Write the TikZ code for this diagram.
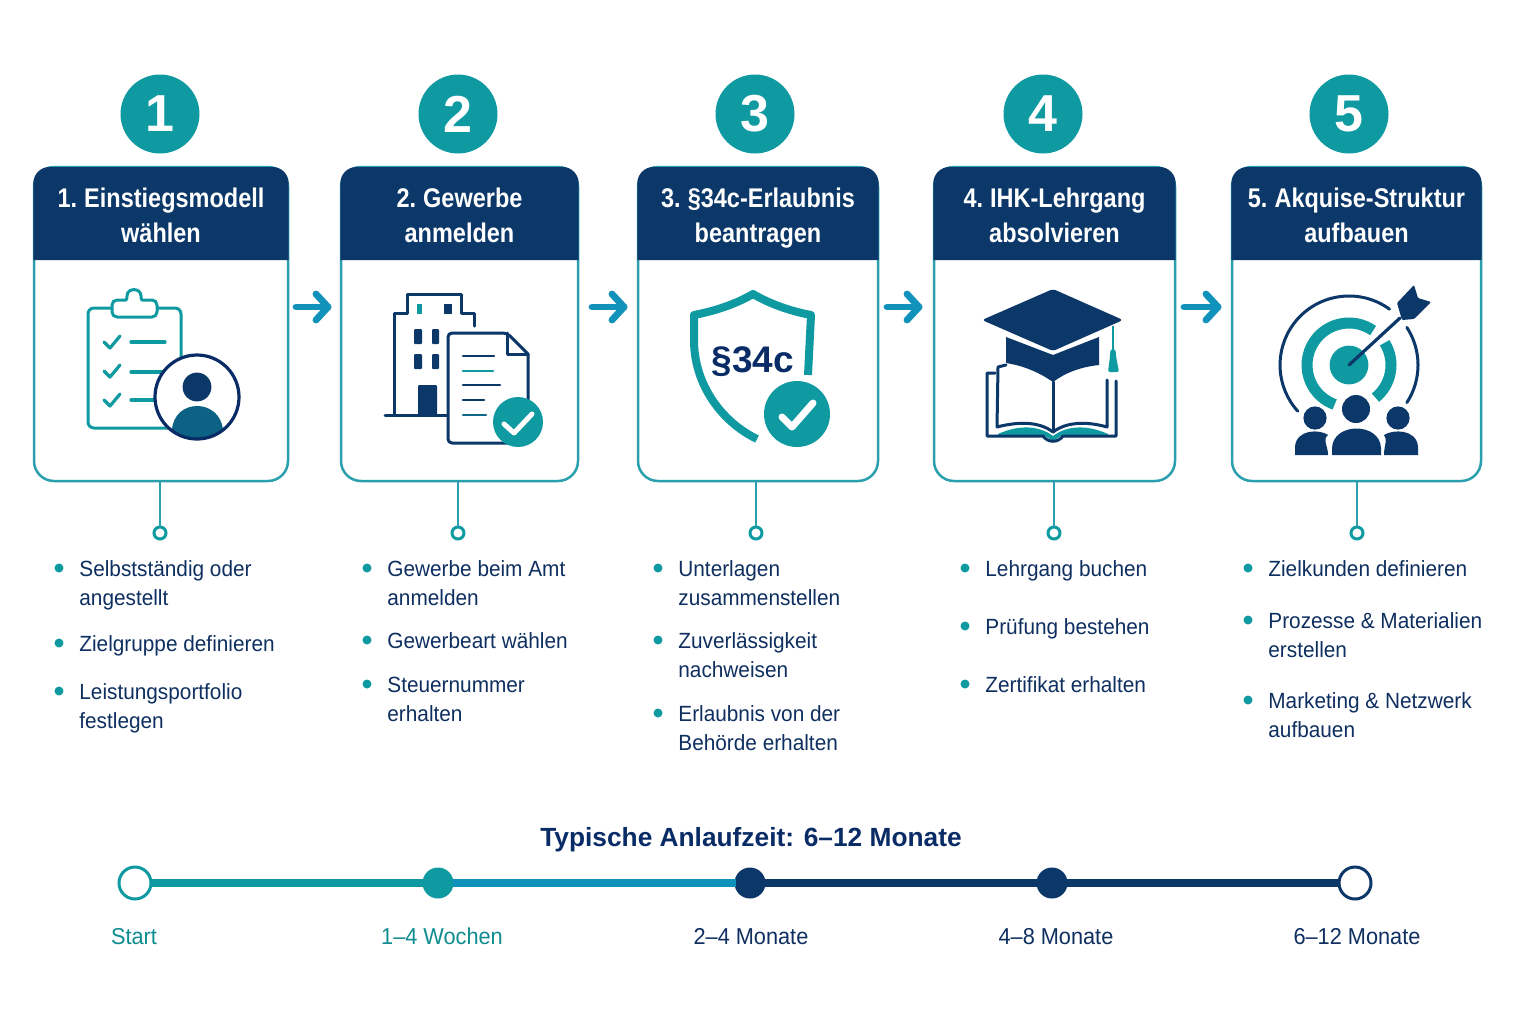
\documentclass[tikz,border=0pt]{standalone}
\usepackage{fontspec}
\usetikzlibrary{calc}
\setmainfont{Liberation Sans}
\newfontfamily\headfont[FakeStretch=0.87,WordSpace=0.75]{Liberation Sans Bold}
\newfontfamily\bodyfont[FakeStretch=0.945]{Liberation Sans}
\definecolor{navy}{HTML}{0B3769}
\definecolor{dnavy}{HTML}{0A2C66}
\definecolor{teal1}{HTML}{0F9AA2}
\definecolor{tealb}{HTML}{2A9FAE}
\definecolor{tealtx}{HTML}{0E8C90}
\definecolor{blue1}{HTML}{1192BB}
\definecolor{txt}{HTML}{0E2F60}
\definecolor{avbody}{HTML}{0B6285}
\tikzset{
  numdisc/.style={circle,fill=teal1,minimum size=39.5pt,inner sep=0pt,text=white,font=\fontsize{26}{26}\selectfont\bfseries},
  cardbox/.style={draw=tealb,line width=1.25pt,rounded corners=10pt,fill=white,inner sep=0pt},
  headtxt/.style={text=white,anchor=base,inner sep=0pt,font=\fontsize{13.5}{17.5}\headfont},
  flow/.style={draw=blue1,line width=3.4pt,line cap=round,line join=round},
  stem/.style={draw=tealb,line width=1.25pt},
  ring/.style={circle,draw=teal1,fill=white,line width=1.5pt,minimum size=6pt,inner sep=0pt},
  bdot/.style={circle,fill=teal1,minimum size=4.5pt,inner sep=0pt},
  body/.style={anchor=north west,align=left,inner sep=0pt,text=txt,font=\fontsize{11}{14.5}\bodyfont},
  tline/.style={line width=4pt},
  tdisc/.style={circle,inner sep=0pt,outer sep=-0.5pt,minimum size=15.5pt},
  thollow/.style={circle,inner sep=0pt,minimum size=16pt,fill=white,line width=1.5pt,outer sep=0pt},
  tlabel/.style={inner sep=0pt,anchor=base,font=\fontsize{11.5}{14}\bodyfont},
  ln/.style={draw=navy,line width=1.5pt,line cap=round,line join=round},
  lt/.style={draw=teal1,line width=1.6pt,line cap=round,line join=round},
}
\newcommand{\bitem}[4]{%
  \node[bdot] (bd#1) at ({#2-20},#3) {};
  \node[body,yshift=4pt] (bt#1) at (#2,#3) {\rule{0pt}{8pt}#4};
}
\newcommand{\cardat}[5]{% id, x0, x1, head line1, head line2
  \node[cardbox,minimum width={(#3-#2)*0.5pt},minimum height=157pt] (c#1) at ({(#2+#3)/2},324) {};
  \fill[navy] (#2-0.6,260) -- (#2-0.6,183) [rounded corners=8pt] -- (#2-0.6,167) -- (#3+0.6,167) [sharp corners] -- (#3+0.6,260) -- cycle;
  \node[headtxt] (h#1a) at ({(#2+#3)/2},207) {#4};
  \node[headtxt] (h#1b) at ({(#2+#3)/2},242) {#5};
}
\newcommand{\flowarrow}[2]{%
  \draw[flow] (#1) -- (#2);
  \draw[flow] ($(#2)+(-12,-13)$) -- (#2) -- ($(#2)+(-12,13)$);
}
\begin{document}
\begin{tikzpicture}[x=0.5pt,y=-0.5pt]
\useasboundingbox (0,0) rectangle (1536,1024);
\fill[white] (0,0) rectangle (1536,1024);

% number discs
\node[numdisc] (n1) at (160,114) {1};
\node[numdisc] (n2) at (458,114) {2};
\node[numdisc] (n3) at (755,114) {3};
\node[numdisc] (n4) at (1043,114) {4};
\node[numdisc] (n5) at (1349,114) {5};

% cards
\cardat{1}{34}{288}{1. Einstiegsmodell}{wählen}
\cardat{2}{341}{578}{2. Gewerbe}{anmelden}
\cardat{3}{638}{878}{3. §34c-Erlaubnis}{beantragen}
\cardat{4}{934}{1175}{4. IHK-Lehrgang}{absolvieren}
\cardat{5}{1232}{1481}{5. Akquise-Struktur}{aufbauen}

% flow arrows
\coordinate (a1s) at (296,307); \coordinate (a1e) at (328,307);
\coordinate (a2s) at (592,307); \coordinate (a2e) at (624,307);
\coordinate (a3s) at (887,307); \coordinate (a3e) at (919,307);
\coordinate (a4s) at (1184,307); \coordinate (a4e) at (1218,307);
\flowarrow{a1s}{a1e}
\flowarrow{a2s}{a2e}
\flowarrow{a3s}{a3e}
\flowarrow{a4s}{a4e}

% stems
\node[ring] (r1) at (160,533) {};
\node[ring] (r2) at (458,533) {};
\node[ring] (r3) at (756,533) {};
\node[ring] (r4) at (1054,533) {};
\node[ring] (r5) at (1357,533) {};
\foreach \i in {1,...,5} \draw[stem] (c\i.south -| r\i) -- (r\i);

% icon 1
\draw[lt,line width=1.5pt,fill=white,rounded corners=3pt] (88,308) rectangle (181,428);
\draw[lt,line width=1.5pt,fill=white] (126,300) [rounded corners=2.5pt] -- (112,300) -- (112,317) -- (157,317) -- (157,300) [sharp corners] -- (142,300) .. controls (141,299) and (141,298) .. (141,296) .. controls (141,287.5) and (127,287.5) .. (127,296) .. controls (127,298) and (127,299) .. (126,300) -- cycle;
\foreach \yy in {336,365,394} {
  \draw[lt] (104,\yy+6) -- (110,\yy+12) -- (120,\yy);
}
\draw[lt] (131,342) -- (165,342);
\draw[lt] (131,372) -- (165,372);
\draw[lt] (131,400) -- (165,400);
\coordinate (av) at (197,397);
\fill[white] (av) circle[radius=21pt];
\begin{scope}
  \clip (av) circle[radius=21pt];
  \fill[avbody] (170,440) -- (172,430) .. controls (174,398) and (220,398) .. (223,430) -- (225,440) -- cycle;
\end{scope}
\draw[dnavy,line width=1.6pt] (av) circle[radius=21pt];
\fill[navy] (197,387) circle[radius=7.2pt];

% icon 2
\draw[ln] (394,415) -- (394,313) -- (407,313) -- (407,294) -- (461,294) -- (461,313) -- (474,313) -- (474,326);
\draw[ln] (385,415) -- (447,415);
\fill[teal1] (417,304) rectangle (422,314);
\fill[navy] (444,304) rectangle (452,314);
\foreach \xa/\xb in {414/422,432/439} \foreach \ya/\yb in {329/344,354/369} {
  \fill[navy,rounded corners=0.5pt] (\xa,\ya) rectangle (\xb,\yb);
}
\fill[navy,rounded corners=0.5pt] (418,385) rectangle (437,416);
\draw[ln,fill=white,rounded corners=2pt] (448,333) -- (507,333) [sharp corners] -- (528,354) [rounded corners=2pt] -- (528,443) -- (448,443) -- cycle;
\draw[ln] (507,333) -- (507,354) -- (528,354);
\draw[ln,line width=1.3pt] (463,356) -- (494,356);
\draw[lt,line width=1.3pt] (463,371) -- (493,371);
\draw[ln,line width=1.3pt] (463,385) -- (500,385);
\draw[ln,line width=1.3pt] (463,400) -- (484,400);
\draw[draw=teal1!50!navy,line width=1.3pt,line cap=round] (463,415) -- (486,415);
\fill[teal1] (518,422) circle[radius=12.5pt];
\draw[white,line width=2.5pt,line cap=round,line join=round] (504,424) -- (514,433) -- (532,414);

% icon 3
\draw[draw=teal1,line width=4pt,line join=round] (808,375) -- (811,315) .. controls (790,311) and (770,304) .. (753,294) .. controls (736,304) and (715,311) .. (694,315) -- (694,340) .. controls (694,385) and (722,422) .. (757,439);
\node[inner sep=0pt,text=dnavy,font=\fontsize{18.5}{20}\selectfont\bfseries] (sec) at (753,362) {§34c};
\fill[teal1] (797,414) circle[radius=16.5pt];
\draw[white,line width=3.5pt,line cap=round,line join=round] (782,417) -- (792,427) -- (813,403);

% icon 4
\fill[navy,rounded corners=1.5pt] (1053,289) -- (1123,320) -- (1053,351) -- (982,320) -- cycle;
\fill[navy] (1006,337) -- (1053,355) -- (1099,337) -- (1099,365) .. controls (1080,367) and (1065,373) .. (1053,382) .. controls (1040,373) and (1025,366) .. (1006,363) -- cycle;
\draw[teal1,line width=1.2pt] (1113,326) -- (1113,350);
\fill[teal1,rounded corners=1pt] (1110.5,349) -- (1115.5,349) -- (1116,356) -- (1119,372) -- (1108,372) -- (1110,356) -- cycle;
\fill[teal1] (998,434) .. controls (1020,424) and (1040,426) .. (1053,436) .. controls (1066,426) and (1086,424) .. (1108,434) -- (1108,436) -- (1061,436) -- (1053,441) -- (1045,436) -- (998,436) -- cycle;
\draw[ln] (1006,365) -- (998,367) -- (997,427) .. controls (1020,421) and (1040,422) .. (1053,432) .. controls (1066,422) and (1086,421) .. (1107,427) -- (1107,380);
\draw[ln] (1053,382) -- (1053,432);
\draw[ln] (995,373) -- (987,373) -- (987,436) -- (1043,436) .. controls (1048,443) and (1058,443) .. (1063,436) -- (1116,436) -- (1116,381);

% icon 5
\coordinate (tc) at (1349,365);
\fill[teal1] (tc) circle[radius=9.7pt];
\draw[teal1,line width=5.5pt] (tc) ++(55:21pt) arc[start angle=55,end angle=250,radius=21pt];
\draw[teal1,line width=5.5pt] (tc) ++(-51:21pt) arc[start angle=-51,end angle=32,radius=21pt];
\draw[navy,line width=1.5pt,line cap=round] (tc) ++(54:34.5pt) arc[start angle=54,end angle=222,radius=34.5pt];
\draw[navy,line width=1.5pt,line cap=round] (tc) ++(-33:34.5pt) arc[start angle=-33,end angle=33,radius=34.5pt];
\draw[navy,line width=1.6pt,line cap=round] (1349,365) -- (1400,318);
\fill[navy,rounded corners=0.5pt] (1397,303) -- (1414,285) -- (1418,298) -- (1431,302) -- (1414,319) -- (1402,320) -- cycle;
\fill[navy] (1356,409) circle[radius=7pt];
\fill[navy] (1332,455) -- (1332,448) .. controls (1333,422) and (1380,422) .. (1381,448) -- (1381,455) -- cycle;
\fill[navy] (1315,418) circle[radius=5.8pt];
\fill[navy] (1295,455) -- (1295,447) .. controls (1296,429) and (1320,429) .. (1328,435) .. controls (1322,440) and (1328,445) .. (1328,455) -- cycle;
\fill[navy] (1398,418) circle[radius=5.8pt];
\fill[navy] (1418,455) -- (1418,447) .. controls (1417,429) and (1393,429) .. (1384,435) .. controls (1388,440) and (1384,445) .. (1384,455) -- cycle;

% bullet lists
\bitem{a}{79}{568}{Selbstständig oder\\angestellt}
\bitem{b}{79}{643}{Zielgruppe definieren}
\bitem{c}{79}{691}{Leistungsportfolio\\festlegen}
\bitem{d}{387}{568}{Gewerbe beim Amt\\anmelden}
\bitem{e}{387}{640}{Gewerbeart wählen}
\bitem{f}{387}{684}{Steuernummer\\erhalten}
\bitem{g}{678}{568}{Unterlagen\\zusammenstellen}
\bitem{h}{678}{640}{Zuverlässigkeit\\nachweisen}
\bitem{i}{678}{713}{Erlaubnis von der\\Behörde erhalten}
\bitem{j}{985}{568}{Lehrgang buchen}
\bitem{k}{985}{626}{Prüfung bestehen}
\bitem{l}{985}{684}{Zertifikat erhalten}
\bitem{m}{1268}{568}{Zielkunden definieren}
\bitem{n}{1268}{620}{Prozesse \& Materialien\\erstellen}
\bitem{o}{1268}{700}{Marketing \& Netzwerk\\aufbauen}

% timeline
\node[inner sep=0pt,anchor=base,text=dnavy,font=\fontsize{13.15}{16}\selectfont\bfseries] (ttl) at (751,846) {Typische Anlaufzeit: 6–12 Monate};
\node[thollow,draw=teal1] (t1) at (135,883) {};
\node[tdisc,fill=teal1] (t2) at (438,883) {};
\node[tdisc,fill=navy] (t3) at (750,883) {};
\node[tdisc,fill=navy] (t4) at (1052,883) {};
\node[thollow,draw=navy] (t5) at (1355,883) {};
\draw[tline,draw=teal1] (t1) -- (t2);
\draw[tline,draw=blue1] (t2) -- (t3);
\draw[tline,draw=navy] (t3) -- (t4);
\draw[tline,draw=navy] (t4) -- (t5);
\node[tlabel,text=tealtx] (l1) at (134,944) {Start};
\node[tlabel,text=tealtx] (l2) at (442,944) {1–4 Wochen};
\node[tlabel,text=txt] (l3) at (751,944) {2–4 Monate};
\node[tlabel,text=txt] (l4) at (1056,944) {4–8 Monate};
\node[tlabel,text=txt] (l5) at (1357,944) {6–12 Monate};
\end{tikzpicture}
\end{document}
